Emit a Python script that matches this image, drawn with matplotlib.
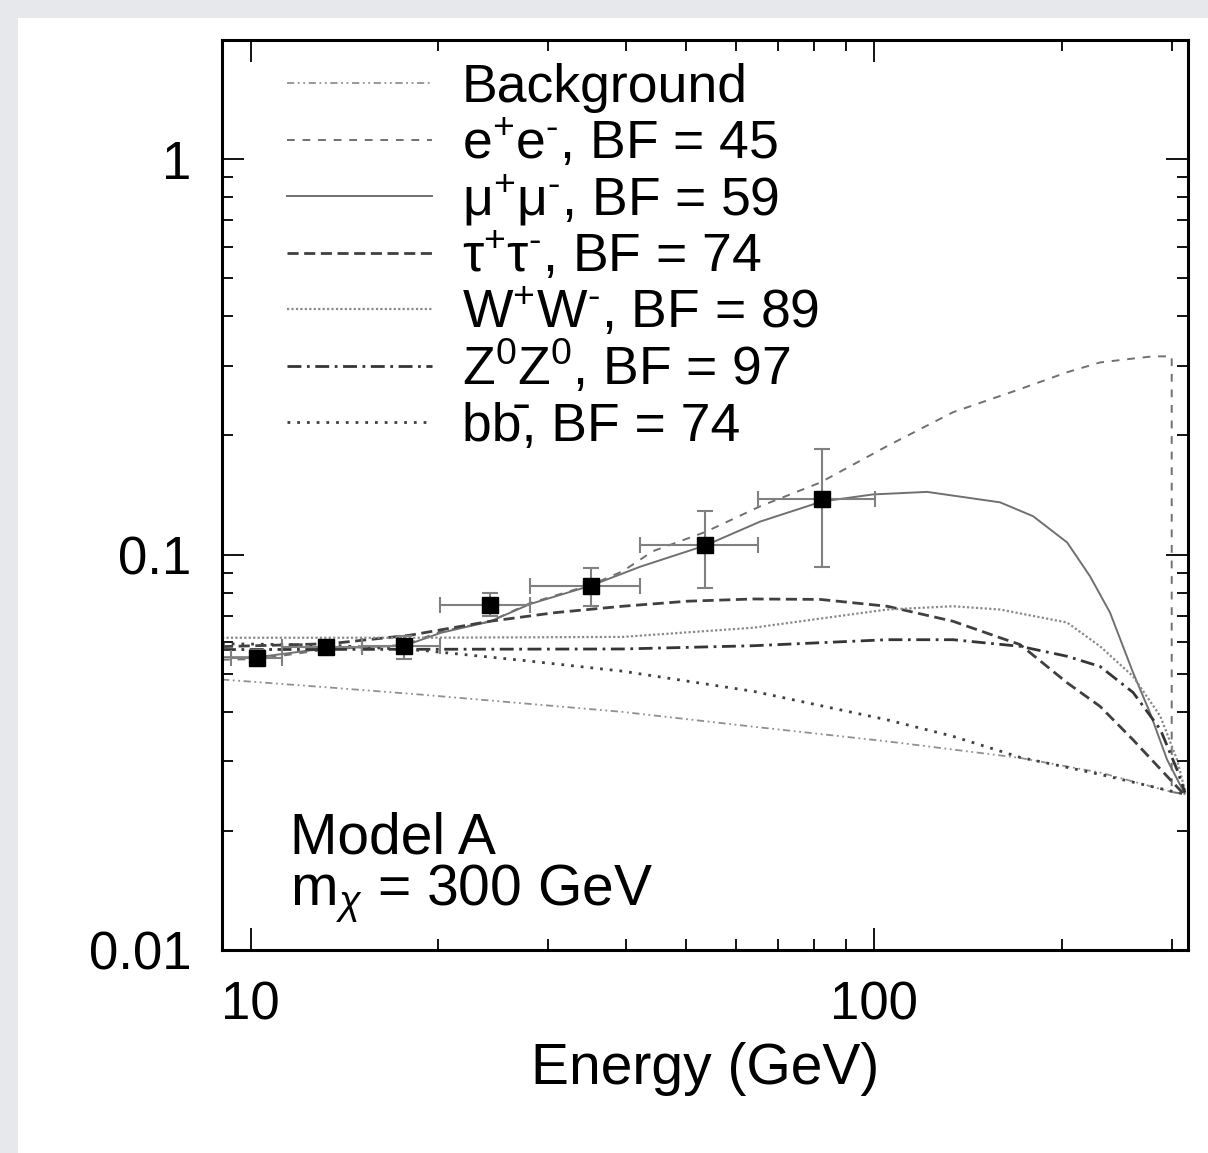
import numpy as np
import matplotlib
matplotlib.use("Agg")
import matplotlib.pyplot as plt
from matplotlib.patches import Rectangle
from matplotlib.ticker import LogLocator, NullFormatter

plt.rcParams['font.family'] = ['Liberation Sans', 'DejaVu Sans']
plt.rcParams['mathtext.fontset'] = 'custom'
plt.rcParams['mathtext.rm'] = 'Liberation Sans'
plt.rcParams['mathtext.it'] = 'Liberation Sans:italic'
plt.rcParams['mathtext.bf'] = 'Liberation Sans:bold'

# measured points (energy in GeV, flux in arbitrary units)
energy_pts = [10.26, 13.2, 17.65, 24.2, 35.2, 53.6, 82.5]
flux_pts = [0.0548, 0.0582, 0.0588, 0.0747, 0.0831, 0.106, 0.138]
bin_lo = [9.3, 11.25, 15.1, 20.1, 28.1, 42.2, 65.2]
bin_hi = [11.25, 15.1, 20.1, 28.1, 42.2, 65.2, 100.4]
flux_lo = [0.0523, 0.0557, 0.0544, 0.0698, 0.0740, 0.0823, 0.0932]
flux_hi = [0.0573, 0.0607, 0.0621, 0.0801, 0.0925, 0.1288, 0.185]

# model curves
bg_E = [9.0, 13.4, 18.9, 39.5, 64.0, 104.9, 171.4, 230.3, 300.0, 318.6]
bg_flux = [0.0483, 0.0461, 0.0442, 0.0400, 0.0367, 0.0337, 0.0306, 0.0281, 0.0251, 0.0247]

ee_E = [9.0, 10.26, 13.2, 17.65, 20.2, 24.2, 28.1, 35.2, 39.5, 44.2, 53.6, 65.7, 81.9,
        104.9, 133.8, 171.4, 203.9, 230.3, 260.1, 280.0, 299.0, 300.0, 300.0, 318.6]
ee_flux = [0.0542, 0.0544, 0.0575, 0.0591, 0.0639, 0.0677, 0.0754, 0.0839, 0.0907, 0.102,
           0.114, 0.1325, 0.152, 0.188, 0.229, 0.262, 0.289, 0.306, 0.313, 0.317, 0.317,
           0.317, 0.0251, 0.0247]

mu_E = [9.0, 10.26, 13.2, 17.65, 20.2, 24.2, 28.1, 35.2, 42.2, 53.6, 65.7, 82.5, 99.6,
        121.6, 159.2, 179.8, 203.9, 221.9, 238.9, 260.1, 276.9, 294.9, 309.3, 315.1]
mu_flux = [0.0550, 0.0550, 0.0579, 0.0588, 0.0634, 0.0677, 0.0750, 0.0835, 0.0932, 0.1054,
           0.1212, 0.1362, 0.1419, 0.1440, 0.1355, 0.125, 0.1073, 0.0881, 0.0713, 0.0503,
           0.0398, 0.0303, 0.0262, 0.0248]

tau_E = [9.0, 13.4, 18.0, 24.2, 30.8, 39.5, 50.2, 64.0, 81.9, 104.9, 133.8, 159.2, 171.4,
         203.9, 230.3, 260.1, 294.9, 314.4]
tau_flux = [0.0585, 0.0595, 0.0625, 0.0678, 0.0713, 0.0740, 0.0762, 0.0772, 0.0770, 0.0740,
            0.0678, 0.0616, 0.0592, 0.0474, 0.0413, 0.0340, 0.0275, 0.0247]

ww_E = [9.0, 18.9, 39.5, 64.0, 104.9, 133.8, 159.2, 203.9, 230.3, 260.1, 287.7, 305.9, 315.1]
ww_flux = [0.0616, 0.0616, 0.0619, 0.0653, 0.0726, 0.0740, 0.0726, 0.0673, 0.0586, 0.0492,
           0.0390, 0.0303, 0.0253]

zz_E = [9.0, 18.9, 39.5, 64.0, 104.9, 133.8, 171.4, 203.9, 230.3, 260.1, 287.7, 305.9, 315.1]
zz_flux = [0.0575, 0.0576, 0.0577, 0.0588, 0.0609, 0.0609, 0.0586, 0.0553, 0.0521, 0.0448,
           0.0361, 0.0286, 0.0250]

bb_E = [9.0, 13.4, 18.9, 27.3, 39.5, 64.0, 104.9, 133.8, 171.4, 230.3, 300.0, 318.6]
bb_flux = [0.0595, 0.0590, 0.0572, 0.0540, 0.0507, 0.0451, 0.0382, 0.0347, 0.0307, 0.0278,
           0.0252, 0.0247]

P = r'$^{\text{+}}$'
M = r'$^{\text{-}}$'
labels = ['Background', 'e' + P + 'e' + M + ', BF = 45', 'μ' + P + 'μ' + M + ', BF = 59',
          'τ' + P + 'τ' + M + ', BF = 74', 'W' + P + 'W' + M + ', BF = 89',
          r'Z$^{\text{0}}$Z$^{\text{0}}$, BF = 97', 'bb\u0304, BF = 74']

curves = [(bg_E, bg_flux), (ee_E, ee_flux), (mu_E, mu_flux), (tau_E, tau_flux),
          (ww_E, ww_flux), (zz_E, zz_flux), (bb_E, bb_flux)]

styles = [
    dict(color='#909090', lw=1.3, dashes=(4, 2, 1, 2, 1, 2)),
    dict(color='#707070', lw=1.4, dashes=(4, 4)),
    dict(color='#707070', lw=1.4, ls='-'),
    dict(color='#404040', lw=2.0, dashes=(4, 2)),
    dict(color='#8a8a8a', lw=1.6, dashes=(1, 1)),
    dict(color='#353535', lw=2.0, dashes=(5, 2, 1, 2)),
    dict(color='#404040', lw=2.0, dashes=(1, 2.5)),
]

fig = plt.figure(figsize=(12.08, 11.53), dpi=100)
fig.patch.set_facecolor('#e6e8eb')
fig.add_artist(Rectangle((18 / 1208, 0), 1, 1 - 18 / 1153, transform=fig.transFigure,
                         facecolor='white', edgecolor='none', zorder=-10))

ax = fig.add_axes([222 / 1208, 203 / 1153, 966 / 1208, 910 / 1153])
ax.set_xscale('log')
ax.set_yscale('log')
ax.set_xlim(9.0, 318.6)
ax.set_ylim(0.01, 2.0)

for (e, f), st in zip(curves, styles):
    ax.plot(e, f, solid_capstyle='butt', dash_capstyle='butt', **st)

e = np.array(energy_pts)
f = np.array(flux_pts)
ax.errorbar(e, f, xerr=[e - np.array(bin_lo), np.array(bin_hi) - e],
            yerr=[f - np.array(flux_lo), np.array(flux_hi) - f],
            fmt='s', color='black', ms=12, ecolor='#808080', elinewidth=1.5,
            capsize=6, capthick=1.5, zorder=5)

# legend drawn by hand to match the gnuplot key layout
row0 = 1 - (83 - 40) / 910
step = 56.5 / 910
for i, (lab, st) in enumerate(zip(labels, styles)):
    yy = row0 - i * step
    ax.plot([0.067, 0.217], [yy, yy], transform=ax.transAxes, **st)
    ax.text(0.248, yy - 0.021, lab, transform=ax.transAxes, fontsize=38.5,
            ha='left', va='baseline')

ax.text(0.0704, 1 - (853 - 40) / 910, 'Model A', transform=ax.transAxes,
        fontsize=41, ha='left', va='baseline')
ax.text(0.0704, 1 - (905 - 40) / 910, r'm$_{\chi}$ = 300 GeV', transform=ax.transAxes,
        fontsize=41, ha='left', va='baseline')

ax.set_xticks([10, 100])
ax.set_xticklabels(['10', '100'])
ax.set_yticks([0.01, 0.1, 1])
ax.set_yticklabels(['0.01', '0.1', '1'])
ax.xaxis.set_minor_locator(LogLocator(base=10, subs=np.arange(2, 10)))
ax.yaxis.set_minor_locator(LogLocator(base=10, subs=np.arange(2, 10)))
ax.xaxis.set_minor_formatter(NullFormatter())
ax.yaxis.set_minor_formatter(NullFormatter())
ax.tick_params(which='both', direction='in', top=True, right=True, width=1.3)
ax.tick_params(which='major', length=16, labelsize=38)
ax.tick_params(axis='y', which='major', pad=22)
ax.tick_params(axis='x', which='major', pad=22)
ax.tick_params(which='minor', length=8)
for sp in ax.spines.values():
    sp.set_linewidth(2.2)

ax.set_xlabel('Energy (GeV)', fontsize=41, labelpad=8)

fig.savefig('out.png', dpi=100, facecolor=fig.get_facecolor())
